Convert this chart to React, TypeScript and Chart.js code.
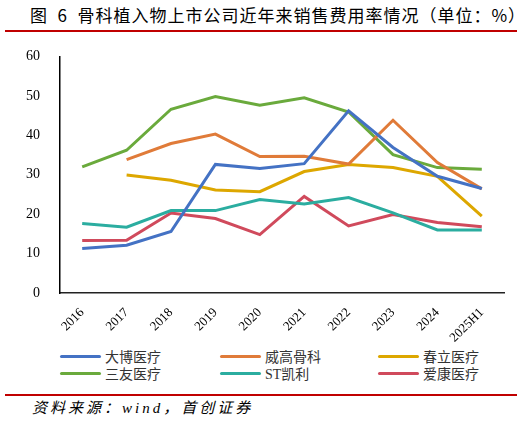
import { useEffect, useRef } from "react";
import { Chart, registerables, type ChartOptions } from "chart.js";

Chart.register(...registerables);

const years = ["2016", "2017", "2018", "2019", "2020", "2021", "2022", "2023", "2024", "2025H1"];
const yTicks = [0, 10, 20, 30, 40, 50, 60];

const dabo = [11.3, 12.1, 15.6, 32.6, 31.6, 32.8, 46.2, 36.9, 29.6, 26.5];
const weigao = [null, 33.8, 37.9, 40.3, 34.6, 34.7, 32.7, 43.8, 33.1, 26.4];
const chunli = [null, 29.9, 28.6, 26.1, 25.7, 30.8, 32.6, 31.8, 29.6, 19.5];
const sanyou = [32.0, 36.2, 46.6, 49.8, 47.6, 49.5, 45.9, 35.1, 31.8, 31.4];
const kaili = [17.6, 16.7, 20.9, 20.9, 23.7, 22.6, 24.2, 20.3, 16.0, 16.0];
const aikang = [13.3, 13.4, 20.3, 18.9, 14.8, 24.5, 17.0, 19.9, 17.9, 16.8];

const series = [
  { name: "大博医疗", data: dabo, color: "#4472C4" },
  { name: "威高骨科", data: weigao, color: "#E07B39" },
  { name: "春立医疗", data: chunli, color: "#DDA700" },
  { name: "三友医疗", data: sanyou, color: "#6AAA3C" },
  { name: "ST凯利", data: kaili, color: "#2BADA0" },
  { name: "爱康医疗", data: aikang, color: "#D04A5C" },
];

const serif = "'Times New Roman', 'Liberation Serif', serif";
const cjk = "'Noto Sans CJK SC', sans-serif";
const mixed = "'Times New Roman', 'Liberation Serif', 'Noto Sans CJK SC', serif";

function LineChart() {
  const canvasRef = useRef<HTMLCanvasElement>(null);

  useEffect(() => {
    if (!canvasRef.current) return;

    const options: ChartOptions<"line"> = {
      responsive: false,
      animation: false,
      layout: { padding: { left: 20, right: 18, top: 9, bottom: 0 } },
      plugins: { legend: { display: false }, tooltip: { enabled: false } },
      scales: {
        x: {
          offset: true,
          grid: { display: false },
          border: { color: "#222", width: 1.5 },
          ticks: {
            color: "#000",
            font: { family: serif, size: 13 },
            minRotation: 45,
            maxRotation: 45,
            autoSkip: false,
            padding: 4,
          },
          afterFit: (s) => {
            s.height = 53;
          },
        },
        y: {
          min: 0,
          max: 60,
          afterBuildTicks: (s) => {
            s.ticks = yTicks.map((v) => ({ value: v }));
          },
          grid: { display: false },
          border: { color: "#000", width: 1.5 },
          ticks: {
            color: "#000",
            font: { family: serif, size: 14 },
            padding: 12,
          },
          afterFit: (s) => {
            s.width = 40;
          },
        },
      },
    };

    const chart = new Chart(canvasRef.current, {
      type: "line",
      data: {
        labels: years,
        datasets: series.map((s) => ({
          label: s.name,
          data: s.data,
          borderColor: s.color,
          backgroundColor: s.color,
          borderWidth: 3,
          pointRadius: 0,
          tension: 0,
          spanGaps: false,
        })),
      },
      options,
    });

    return () => chart.destroy();
  }, []);

  return <canvas ref={canvasRef} width={522} height={310} style={{ width: 522, height: 310, display: "block" }} />;
}

export default function App() {
  const legendCols = [60, 220, 378];
  return (
    <div style={{ position: "absolute", left: 0, top: 0, width: 522, height: 422, background: "#fff", overflow: "hidden" }}>
      <div
        style={{
          position: "absolute",
          left: 30,
          top: 3,
          fontFamily: cjk,
          fontSize: 17,
          letterSpacing: 1,
          color: "#000",
          whiteSpace: "pre",
          lineHeight: "24px",
        }}
      >
        {"图\u20026\u2002骨科植入物上市公司近年来销售费用率情况（单位：%）"}
      </div>
      <div style={{ position: "absolute", left: 5, top: 30, width: 512, height: 2, background: "#C00000" }} />
      <div style={{ position: "absolute", left: 0, top: 36 }}>
        <LineChart />
      </div>
      {series.map((s, i) => (
        <div
          key={s.name}
          style={{
            position: "absolute",
            left: legendCols[i % 3],
            top: i < 3 ? 347 : 364,
            height: 18,
            display: "flex",
            alignItems: "center",
            whiteSpace: "nowrap",
          }}
        >
          <span style={{ display: "inline-block", width: 41, height: 3, borderRadius: 2, background: s.color }} />
          <span style={{ marginLeft: 4, fontFamily: mixed, fontSize: 14, color: "#333" }}>{s.name}</span>
        </div>
      ))}
      <div style={{ position: "absolute", left: 5, top: 394, width: 512, height: 2, background: "#C00000" }} />
      <div
        style={{
          position: "absolute",
          left: 32,
          top: 398,
          fontFamily: mixed,
          fontStyle: "italic",
          fontSize: 15,
          letterSpacing: 3,
          color: "#000",
          whiteSpace: "nowrap",
          lineHeight: "20px",
        }}
      >
        资料来源：wind，首创证券
      </div>
    </div>
  );
}
